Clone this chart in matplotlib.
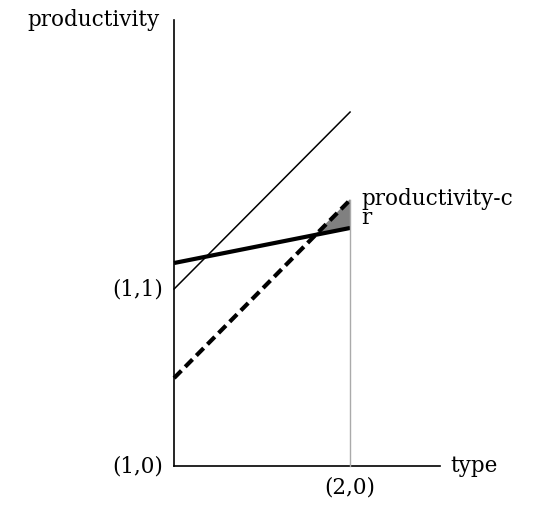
import matplotlib.pyplot as plt
import numpy as np

# endpoints at type = 1 and type = 2
types = [1.0, 2.0]
thin_line = [1.0, 2.0]
thick_line = [1.147, 1.345]
dashed_line = [0.497, 1.503]

fig = plt.figure(figsize=(5.5, 5.14), dpi=100)
ax = fig.add_axes([0, 0, 1, 1])
ax.set_xlim(0.011, 3.136)
ax.set_ylim(-0.271, 2.633)
ax.axis('off')

font = dict(family='DejaVu Serif', fontsize=15.5)

# axes
ax.plot([1, 1], [0, 2.52], color='black', lw=1.2)
ax.plot([1, 2.51], [0, 0], color='black', lw=1.2)

ax.plot(types, thin_line, color='black', lw=1.1)
ax.plot(types, thick_line, color='black', lw=3, solid_capstyle='butt')
ax.plot(types, dashed_line, color='black', lw=3, ls=(0, (2.5, 1.3)), dash_capstyle='butt')
ax.plot([2, 2], [0, dashed_line[1]], color='#aaaaaa', lw=1)

# shaded triangle where dashed line is above thick line
sd = dashed_line[1] - dashed_line[0]
st = thick_line[1] - thick_line[0]
xi = 1 + (thick_line[0] - dashed_line[0]) / (sd - st)
yi = thick_line[0] + st * (xi - 1)
ax.fill([xi, 2, 2], [yi, thick_line[1], dashed_line[1]], color='gray', zorder=1)

ax.text(0.92, 2.52, 'productivity', ha='right', va='center', **font)
ax.text(2.57, 0.0, 'type', ha='left', va='center', **font)
ax.text(0.94, 1.0, '(1,1)', ha='right', va='center', **font)
ax.text(0.94, 0.0, '(1,0)', ha='right', va='center', **font)
ax.text(2.0, -0.12, '(2,0)', ha='center', va='center', **font)
ax.text(2.065, 1.51, 'productivity-c', ha='left', va='center', **font)
ax.text(2.065, 1.40, 'r', ha='left', va='center', **font)

fig.savefig('out.png', dpi=100)
